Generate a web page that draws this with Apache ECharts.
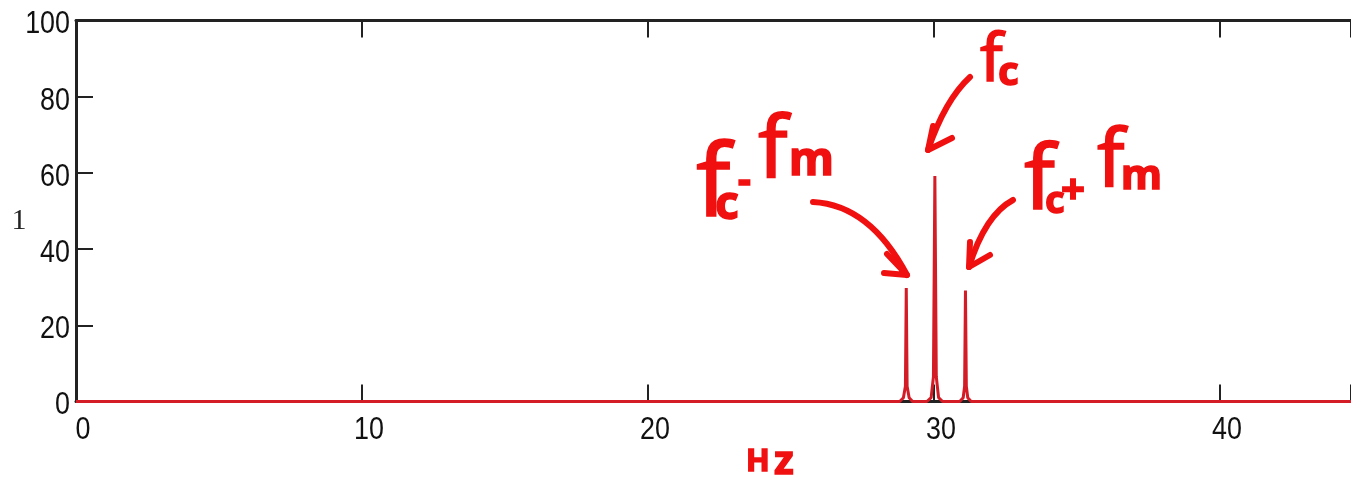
<!DOCTYPE html>
<html>
<head>
<meta charset="utf-8">
<script src="https://cdn.jsdelivr.net/npm/echarts@6/dist/echarts.min.js"></script>
<style>html,body{margin:0;padding:0;background:#fff}#c{width:1351px;height:481px}</style>
</head>
<body>
<div id="c"></div>
<script>
// Frequency (Hz) sample points
const freqHz = [0, 28.8, 28.93, 29.0, 29.03, 29.06, 29.13, 29.25,
  29.75, 29.9, 29.98, 30.03, 30.08, 30.16, 30.3,
  30.9, 31.02, 31.07, 31.1, 31.13, 31.18, 31.3, 44.58];
// Magnitude at each frequency
const magnitude = [0, 0, 1, 4, 29.8, 4, 1, 0,
  0, 1, 6.5, 59.2, 6.5, 1, 0,
  0, 1, 4, 29.1, 4, 1, 0, 0];
const xTicks = [0, 10, 20, 30, 40];
const yTicks = [0, 20, 40, 60, 80, 100];
const xMax = 44.58;

const labelFont = "32px 'Liberation Sans', Arial, sans-serif";
const hand = "'Noto Sans','DejaVu Sans',sans-serif";
const red = '#f01010';

const chart = echarts.init(document.getElementById('c'), null, {renderer: 'canvas'});
const axisLine = {show: true, lineStyle: {color: '#222', width: 3}};
const tick = {show: true, inside: true, length: 17, lineStyle: {color: '#222', width: 2}};
chart.setOption({
  animation: false,
  backgroundColor: '#fff',
  grid: {left: 76, top: 20.5, bottom: 79.5, right: 0, containLabel: false},
  xAxis: [{
    type: 'value', min: 0, max: xMax, interval: 10,
    axisLine: axisLine, axisTick: tick, splitLine: {show: false}, axisLabel: {show: false}
  }, {
    type: 'value', position: 'top', min: 0, max: xMax, interval: 10,
    axisLine: axisLine, axisTick: tick, axisLabel: {show: false}, splitLine: {show: false}
  }],
  yAxis: [{
    type: 'value', min: 0, max: 100, interval: 20,
    axisLine: axisLine, axisTick: tick, splitLine: {show: false}, axisLabel: {show: false}
  }],
  series: [{
    type: 'line', showSymbol: false, symbol: 'none',
    data: freqHz.map((f, i) => [f, magnitude[i]]),
    lineStyle: {color: '#d41c26', width: 3},
    z: 5
  }]
});

// tick labels (condensed to match the narrow original face), placed through the axis scales
const g = [];
xTicks.forEach(v => {
  const px = chart.convertToPixel({xAxisIndex: 0}, v);
  g.push({type: 'text', x: px + 7, y: 430.5, scaleX: 0.84,
    style: {text: String(v), font: labelFont, fill: '#111', align: 'center', verticalAlign: 'middle'}});
});
yTicks.forEach(v => {
  const py = chart.convertToPixel({yAxisIndex: 0}, v);
  g.push({type: 'text', x: 70, y: py + 4, scaleX: 0.84,
    style: {text: String(v), font: labelFont, fill: '#111', align: 'right', verticalAlign: 'middle'}});
});
g.push({type: 'text', x: 19, y: 221, style: {text: '1', font: "30px 'Liberation Serif', serif", fill: '#222', align: 'center', verticalAlign: 'middle'}});

// handwritten red annotations
function hw(t, x, baseline, fs, weight) {
  return {type: 'text', x: x, y: baseline - 0.36 * fs,
    style: {text: t, font: (weight || 'normal') + ' ' + fs + 'px ' + hand, fill: red,
      stroke: red, lineWidth: 1.5, align: 'left', verticalAlign: 'middle'}};
}
g.push(hw('H', 746, 473, 31, 'bold'));
g.push(hw('z', 774, 477, 40, 'bold'));
// fc
g.push(hw('f', 980, 86, 66));
g.push(hw('c', 998, 88, 40, 'bold'));
// fc-fm
g.push(hw('f', 696, 224, 100));
g.push(hw('c', 715, 222, 46, 'bold'));
g.push(hw('-', 738, 196, 40, 'bold'));
g.push(hw('f', 758, 183, 86));
g.push(hw('m', 789, 178, 46, 'bold'));
// fc+fm
g.push(hw('f', 1024, 216, 90));
g.push(hw('c', 1045, 216, 38, 'bold'));
g.push(hw('+', 1061, 207, 42, 'bold'));
g.push(hw('f', 1097, 193, 80));
g.push(hw('m', 1121, 192, 42, 'bold'));
// arrows
const arrowStyle = {stroke: red, lineWidth: 6, lineCap: 'round', lineJoin: 'round', fill: null};
g.push({type: 'bezierCurve', shape: {x1: 970, y1: 77, x2: 928, y2: 150, cpx1: 945, cpy1: 100}, style: arrowStyle});
g.push({type: 'polyline', shape: {points: [[933, 126], [928, 150], [952, 138]]}, style: arrowStyle});
g.push({type: 'bezierCurve', shape: {x1: 813, y1: 202, x2: 907, y2: 275, cpx1: 870, cpy1: 205}, style: arrowStyle});
g.push({type: 'polyline', shape: {points: [[887, 254], [907, 275], [884, 273]]}, style: arrowStyle});
g.push({type: 'bezierCurve', shape: {x1: 1013, y1: 200, x2: 969, y2: 267, cpx1: 985, cpy1: 215}, style: arrowStyle});
g.push({type: 'polyline', shape: {points: [[970, 242], [969, 267], [990, 255]]}, style: arrowStyle});

chart.setOption({graphic: g});
</script>
</body>
</html>
